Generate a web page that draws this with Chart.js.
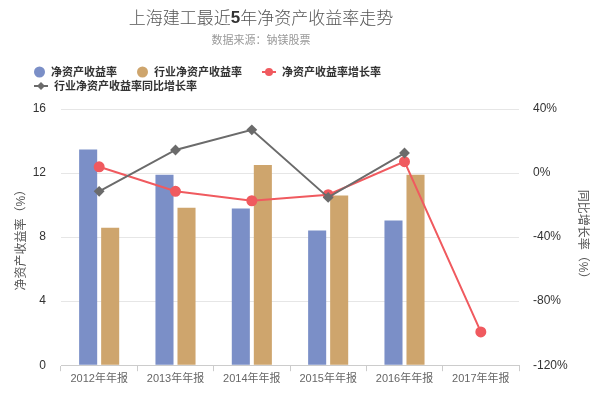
<!DOCTYPE html>
<html>
<head>
<meta charset="utf-8">
<script src="https://cdn.jsdelivr.net/npm/chart.js@4.4.1/dist/chart.umd.min.js"></script>
<style>
  html, body { margin: 0; padding: 0; background: #fff; }
  #wrap { width: 600px; height: 400px; }
</style>
</head>
<body>
<div id="wrap"><canvas id="roeChart" width="600" height="400"></canvas></div>
<script>
// data
const categories = ['2012年年报', '2013年年报', '2014年年报', '2015年年报', '2016年年报', '2017年年报'];
const roe = [13.47, 11.9, 9.78, 8.41, 9.03, null];
const industryRoe = [8.59, 9.83, 12.5, 10.6, 11.9, null];
const roeGrowth = [3.9, -11.4, -17.3, -13.5, 7.1, -99.2];
const industryGrowth = [-11.4, 14.4, 27.0, -15.2, 12.5, null];

const titleParts = ['上海建工最近', '5', '年净资产收益率走势'];
const subtitle = '数据来源：钠镁股票';

const CJK = '"Noto Sans CJK SC", sans-serif';
Chart.defaults.font.family = '"Liberation Sans", "Noto Sans CJK SC", sans-serif';

// title, subtitle and legend drawn by hand (layout differs from Chart.js default)
const headerPlugin = {
    id: 'header',
    afterDraw(chart) {
        const ctx = chart.ctx;
        ctx.save();

        // title with bold "5"
        const fonts = ['300 17px ' + CJK, 'bold 17px "Liberation Sans", sans-serif', '300 17px ' + CJK];
        let widths = titleParts.map((t, i) => { ctx.font = fonts[i]; return ctx.measureText(t).width; });
        let x = 261 - widths.reduce((a, b) => a + b, 0) / 2;
        ctx.textBaseline = 'middle';
        ctx.textAlign = 'left';
        titleParts.forEach((t, i) => {
            ctx.font = fonts[i];
            ctx.fillStyle = i === 1 ? '#333' : '#555';
            ctx.fillText(t, x, 18);
            x += widths[i];
        });

        ctx.font = '11px ' + CJK;
        ctx.fillStyle = '#999';
        ctx.textAlign = 'center';
        ctx.fillText(subtitle, 261, 40);

        // legend
        ctx.textAlign = 'left';
        let lx = 34, ly = 72;
        chart.data.datasets.forEach(ds => {
            ctx.font = 'bold 11px ' + CJK;
            const w = ctx.measureText(ds.label).width;
            const isLine = ds.type === 'line';
            const mw = isLine ? 14 : 11;
            if (lx + mw + 6 + w > 440) { lx = 34; ly += 14; }
            ctx.fillStyle = ds.backgroundColor;
            ctx.strokeStyle = ds.borderColor;
            if (isLine) {
                ctx.lineWidth = 2;
                ctx.beginPath();
                ctx.moveTo(lx, ly);
                ctx.lineTo(lx + mw, ly);
                ctx.stroke();
                const cx = lx + mw / 2;
                ctx.beginPath();
                if (ds.pointStyle === 'rectRot') {
                    ctx.moveTo(cx, ly - 4); ctx.lineTo(cx + 4, ly);
                    ctx.lineTo(cx, ly + 4); ctx.lineTo(cx - 4, ly);
                    ctx.closePath();
                } else {
                    ctx.arc(cx, ly, 4, 0, Math.PI * 2);
                }
                ctx.fill();
            } else {
                ctx.beginPath();
                ctx.arc(lx + mw / 2, ly, 5.5, 0, Math.PI * 2);
                ctx.fill();
            }
            ctx.fillStyle = '#333';
            ctx.fillText(ds.label, lx + mw + 6, ly);
            lx += mw + 6 + w + 20;
        });
        ctx.restore();
    }
};

new Chart(document.getElementById('roeChart'), {
    data: {
        labels: categories,
        datasets: [
            { type: 'bar', label: '净资产收益率', data: roe, yAxisID: 'y', order: 2,
              backgroundColor: '#7b8fc7', borderColor: '#7b8fc7',
              categoryPercentage: 0.577, barPercentage: 0.82 },
            { type: 'bar', label: '行业净资产收益率', data: industryRoe, yAxisID: 'y', order: 2,
              backgroundColor: '#cea56d', borderColor: '#cea56d',
              categoryPercentage: 0.577, barPercentage: 0.82 },
            { type: 'line', label: '净资产收益率增长率', data: roeGrowth, yAxisID: 'y1', order: 1,
              borderColor: '#f05a5f', backgroundColor: '#f05a5f', borderWidth: 2,
              pointStyle: 'circle', pointRadius: 4.5, tension: 0 },
            { type: 'line', label: '行业净资产收益率同比增长率', data: industryGrowth, yAxisID: 'y1', order: 0,
              borderColor: '#6b6b6b', backgroundColor: '#6b6b6b', borderWidth: 2,
              pointStyle: 'rectRot', pointRadius: 4, tension: 0 }
        ]
    },
    options: {
        responsive: false,
        animation: false,
        layout: { padding: { top: 109, left: 10, right: 8, bottom: 13.6 } },
        plugins: {
            legend: { display: false },
            title: { display: false },
            tooltip: { enabled: false }
        },
        scales: {
            x: {
                grid: { display: true, drawOnChartArea: false, drawTicks: true, tickLength: 6, color: '#ccc' },
                border: { display: true, color: '#ccc' },
                ticks: { color: '#666', font: { size: 11 }, padding: 1, maxRotation: 0 }
            },
            y: {
                position: 'left',
                min: 0, max: 16,
                afterFit: s => { s.width = 51; },
                ticks: { stepSize: 4, color: '#333', font: { size: 12 }, padding: 15 },
                grid: { color: '#e6e6e6', drawTicks: false },
                border: { display: false },
                title: { display: true, text: '净资产收益率（%）', color: '#555',
                         font: { size: 12 }, padding: { top: 4, bottom: 4 } }
            },
            y1: {
                position: 'right',
                min: -120, max: 40,
                afterFit: s => { s.width = 73; },
                ticks: { stepSize: 40, color: '#333', font: { size: 12 }, padding: 14,
                         callback: v => v + '%' },
                grid: { display: false, drawTicks: false },
                border: { display: false },
                title: { display: true, text: '同比增长率（%）', color: '#555',
                         font: { size: 12 }, padding: { top: 2, bottom: 8 } }
            }
        }
    },
    plugins: [headerPlugin]
});
</script>
</body>
</html>
